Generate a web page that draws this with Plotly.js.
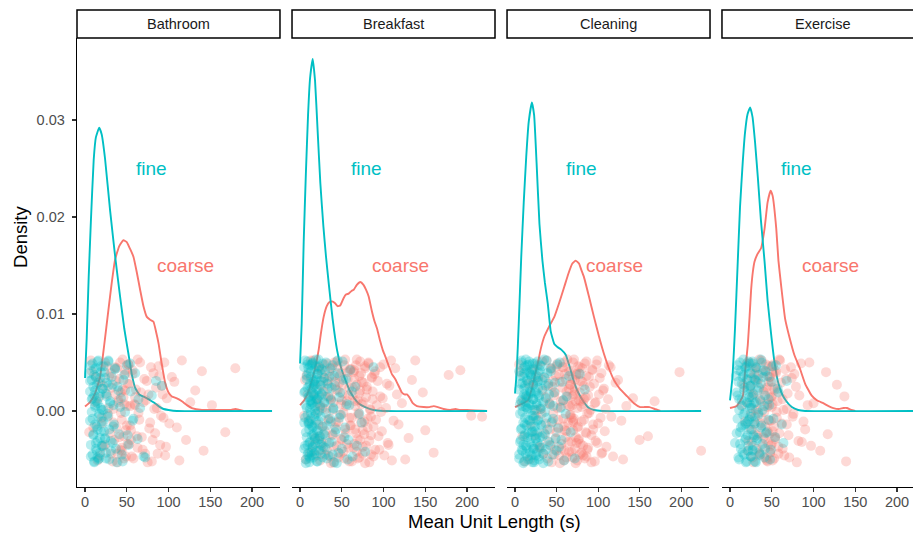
<!DOCTYPE html>
<html><head><meta charset="utf-8">
<script src="https://cdn.plot.ly/plotly-3.0.1.min.js"></script>
<style>html,body{margin:0;padding:0;background:#fff;} #chart{width:913px;height:535px;}</style>
</head><body><div id="chart"></div>
<script>
// ---------- categories & ticks ----------
const activities = ['Bathroom', 'Breakfast', 'Cleaning', 'Exercise'];
const groups = ['fine', 'coarse'];
const xTickVals = [0, 50, 100, 150, 200];
const yTickVals = [0, 0.01, 0.02, 0.03];
const yTickText = ['0.00', '0.01', '0.02', '0.03'];

// ---------- density curves (Mean Unit Length (s) -> Density) ----------
const bathFineX = [0,2,4.4,7,10.4,13,17,20,24,30,36,42,47,52,56,60,65,72,78,82,88,94,100,110,224];
const bathFineY = [0.0034,0.0075,0.0138,0.0195,0.0259,0.0282,0.0292,0.0285,0.026,0.0207,0.016,0.0118,0.0085,0.0059,0.0038,0.0024,0.0017,0.0014,0.0011,0.0009,0.0005,0.0002,0.0001,0,0];
const bathCoarseX = [0,6,12,18,23,28,32,36,41,46,50,54,58,62,66,70,74,78,82,85,88,92,96,100,104,110,116,122,128,140,160,175,180,185,190];
const bathCoarseY = [0.00045,0.0009,0.0018,0.0035,0.0068,0.0104,0.0132,0.0156,0.017,0.0176,0.0174,0.0167,0.0159,0.0143,0.0125,0.0108,0.0097,0.0094,0.0092,0.0082,0.007,0.0048,0.0029,0.0019,0.0015,0.0013,0.001,0.0006,0.0003,0.0001,0.0001,0.0001,0.0002,0.0001,0];

const brkFineX = [0,2,4.4,7,9.6,12,15.2,18,21,24.3,28,31,34.3,39,44.3,49,54.3,60,65,70,78,88,100,224];
const brkFineY = [0.0049,0.009,0.0175,0.0245,0.0305,0.0343,0.0363,0.034,0.029,0.0235,0.019,0.016,0.0132,0.0095,0.0063,0.0045,0.0032,0.002,0.0013,0.0008,0.0004,0.0001,0,0];
const brkCoarseX = [0,5,10,15,19,22.3,25,28.3,32,35,38.3,42,45,48.3,52,55,58.3,62,64.3,68,72.2,76,79,82.2,86,89,92.2,96,99,102.2,106,110,114,118,122,125,128,131,135,140,148,155,160,165,172,180,186,192,200,224];
const brkCoarseY = [0.0006,0.0011,0.002,0.0034,0.0048,0.0063,0.008,0.0097,0.0108,0.0112,0.0113,0.0111,0.0108,0.0109,0.0116,0.012,0.0121,0.0124,0.0125,0.013,0.0133,0.013,0.0125,0.0118,0.0103,0.0093,0.0085,0.0072,0.0063,0.0056,0.0047,0.0038,0.0033,0.0026,0.0019,0.0017,0.0017,0.0014,0.0008,0.0005,0.0004,0.0004,0.0005,0.0004,0.0002,0.0001,0.0002,0.0001,0.0001,0];

const clnFineX = [0,2,4.5,7.5,10.5,13.5,16.5,20.3,23,26,29.4,33,36,39.4,43,47.3,51,56,61,66,71,76,83,89,95,105,224];
const clnFineY = [0.0018,0.004,0.009,0.0159,0.0215,0.0262,0.0298,0.0318,0.0305,0.0255,0.0193,0.0155,0.0132,0.0111,0.0082,0.0069,0.0066,0.0063,0.0058,0.0045,0.003,0.0019,0.0009,0.0003,0.0001,0,0];
const clnCoarseX = [0,5,10,15.5,20,24,27.4,31,35.4,41,47.3,53,59.3,64,69,73.1,77,80,83,89,95,101,107,113,119,126,135,143,150.6,156,162,168,175];
const clnCoarseY = [0.0004,0.0006,0.0008,0.0011,0.0022,0.0037,0.0049,0.0064,0.0077,0.0087,0.0097,0.0111,0.0128,0.0141,0.0152,0.0155,0.0152,0.0145,0.0138,0.0118,0.0097,0.0077,0.0059,0.0044,0.0032,0.0023,0.0015,0.0008,0.0004,0.0004,0.0004,0.0002,0];

const exeFineX = [0,3,6,9.3,12,15.3,18,21,24.1,27,30,33.4,37,41.4,45,49.4,53,57.5,62,67.5,74,81.6,90,224];
const exeFineY = [0.0011,0.0035,0.0085,0.0154,0.021,0.0257,0.0287,0.0306,0.0313,0.0303,0.0277,0.024,0.0197,0.0154,0.0114,0.0078,0.0052,0.003,0.0018,0.001,0.0004,0.0001,0,0];
const exeCoarseX = [0,8,15.3,18,21.3,23.5,25.3,27.3,29.4,33,37.3,41.4,45,48.6,51,55.4,58,61.4,66,71.5,77,83.6,90,97.6,104,111.7,118,123.7,130,136,140,145,150];
const exeCoarseY = [0.0003,0.0005,0.0015,0.004,0.0068,0.0098,0.0125,0.0143,0.0154,0.0162,0.0168,0.0188,0.0215,0.0227,0.0222,0.0188,0.0155,0.0128,0.0095,0.0075,0.0058,0.0044,0.0028,0.0016,0.0011,0.0008,0.0005,0.0003,0.0002,0.0003,0.0003,0.0001,0];

// ---------- jittered raw observations (x = Mean Unit Length, y = vertical jitter) ----------
const bathFineJit = [0.0031,-0.0047,0.0012,-0.0008,0.0049,-0.0025,0.0037,-0.0052,0.0004,0.0021,-0.0039,0.0044,-0.0016,0.0027,-0.0031,0.0008,-0.0050,0.0052,-0.0003,0.0015,-0.0043,0.0034,-0.0021,0.0046,-0.0011,0.0023,-0.0036,0.0001,0.0040,-0.0028,0.0018,-0.0049,0.0029,-0.0006,0.0051,-0.0019,0.0010,-0.0041,0.0035,-0.0033,0.0006,-0.0014,0.0043,-0.0053,0.0025,-0.0024,0.0013,-0.0045,0.0032,-0.0001,0.0047,-0.0035,0.0020,-0.0010,0.0039,-0.0029,0.0003,-0.0048,0.0016,0.0026];
const bathCoarseJit = [-0.0022,0.0041,0.0009,-0.0051,0.0030,-0.0013,-0.0037,0.0050,0.0017,-0.0005,0.0036,-0.0044,0.0024,0.0002,-0.0030,0.0045,-0.0018,-0.0053,0.0011,0.0033,-0.0040,0.0019,-0.0009,0.0053,-0.0026,0.0007,0.0038,-0.0047,-0.0015,0.0028,0.0048,-0.0034,0.0005,-0.0020,0.0042,-0.0049,0.0014,0.0022,-0.0038,-0.0002,0.0050,-0.0027,0.0009,-0.0044,0.0031,0.0017,-0.0012,-0.0052,0.0039,-0.0023,0.0003,0.0046,-0.0035,0.0026,-0.0007,-0.0046,0.0013,0.0035,-0.0017,0.0052,-0.0030,0.0021,-0.0041,0.0006,0.0044];
const brkFineJit = [0.0045,-0.0012,-0.0036,0.0020,0.0006,-0.0050,0.0033,-0.0027,0.0051,-0.0004,0.0014,-0.0043,0.0039,-0.0019,0.0026,-0.0053,0.0002,0.0047,-0.0032,0.0011,-0.0008,0.0035,-0.0046,0.0023,-0.0015,0.0050,-0.0038,0.0008,0.0030,-0.0024,-0.0048,0.0017,0.0043,-0.0006,-0.0034,0.0027,0.0000,-0.0041,0.0053,-0.0020,0.0012,0.0038,-0.0052,0.0022,-0.0010,0.0046,-0.0029,0.0004,-0.0044,0.0031,0.0018,-0.0016,0.0049,-0.0037,0.0009,-0.0025,0.0041,-0.0002,-0.0049,0.0028,0.0015,-0.0033,0.0044,-0.0011,0.0024,-0.0045,0.0003,0.0036,-0.0022,-0.0054,0.0052,-0.0007,0.0019,-0.0039,0.0032,-0.0017,0.0007,-0.0030,0.0042,-0.0047,0.0025,-0.0003,-0.0042,0.0048,0.0010,-0.0026,0.0034,-0.0013,0.0016,-0.0035];
const brkCoarseJit = [-0.0005,0.0037,-0.0043,0.0019,0.0052,-0.0028,0.0008,-0.0014,0.0044,-0.0051,0.0026,-0.0033,0.0003,0.0048,-0.0021,0.0015,-0.0040,0.0031,-0.0009,0.0041,-0.0047,0.0012,0.0035,-0.0025,0.0001,-0.0053,0.0050,-0.0017,0.0022,-0.0036,0.0046,-0.0011,0.0029,-0.0044,0.0007,0.0039,-0.0030,0.0018,-0.0002,-0.0049,0.0053,-0.0023,0.0010,0.0033,-0.0038,0.0024,-0.0007,0.0043,-0.0015,-0.0052,0.0016,0.0040,-0.0034,0.0005,-0.0019,0.0047,-0.0042,0.0027,0.0011,-0.0029,-0.0004,0.0036,-0.0048,0.0021,0.0051,-0.0012,0.0030,-0.0037,0.0009,-0.0024,0.0044,-0.0054,0.0014,0.0025,-0.0008,0.0049,-0.0031,0.0002,-0.0045,0.0034,0.0020,-0.0016,0.0038,-0.0040,0.0006,-0.0026,0.0045,-0.0001,0.0013,-0.0046,0.0028,-0.0035,0.0052,-0.0010,0.0017,-0.0050,0.0032,-0.0020,0.0042,-0.0006];
const clnFineJit = [0.0022,-0.0049,0.0036,-0.0003,0.0011,-0.0030,0.0050,-0.0018,-0.0041,0.0029,0.0005,-0.0012,0.0044,-0.0035,0.0017,-0.0052,0.0039,-0.0007,0.0026,-0.0024,0.0053,-0.0044,0.0009,0.0032,-0.0015,-0.0038,0.0002,0.0047,-0.0027,0.0014,-0.0050,0.0024,0.0040,-0.0010,-0.0033,0.0018,0.0006,-0.0046,0.0034,-0.0021,0.0049,-0.0005,-0.0039,0.0012,0.0027,-0.0053,0.0043,-0.0016,0.0001,0.0037,-0.0029,0.0020,-0.0043,0.0008,0.0051,-0.0023,-0.0009,0.0031,-0.0047,0.0016,0.0042,-0.0036,0.0004,-0.0014,0.0046,-0.0026,0.0023,-0.0054,0.0035,-0.0001,0.0013,-0.0040,0.0052,-0.0019,0.0028,-0.0032,0.0007,0.0041,-0.0045,-0.0008,0.0019,-0.0028,0.0048,-0.0037,0.0003,0.0030,-0.0051,0.0015,-0.0022,0.0038];
const clnCoarseJit = [0.0040,-0.0026,0.0013,-0.0050,0.0029,-0.0006,0.0047,-0.0037,0.0002,0.0021,-0.0044,0.0034,-0.0013,0.0052,-0.0031,0.0008,-0.0019,0.0043,-0.0053,0.0025,-0.0002,0.0016,-0.0040,0.0036,-0.0022,0.0049,-0.0009,-0.0046,0.0030,0.0004,-0.0034,0.0045,0.0011,-0.0016,-0.0051,0.0038,-0.0027,0.0020,0.0053,-0.0012,0.0006,-0.0042,0.0027,-0.0004,0.0041,-0.0032,0.0015,-0.0048,0.0033,-0.0020,0.0050,-0.0008,0.0024,-0.0039,0.0010,-0.0054,0.0037,-0.0017,0.0003,0.0046,-0.0029,0.0019,-0.0045,0.0031,-0.0011,0.0044,-0.0036,0.0007,0.0026,-0.0049,0.0014,-0.0023,0.0051,-0.0003,-0.0038,0.0035,0.0001,-0.0025,0.0042,-0.0014,0.0028,-0.0052,0.0009,0.0048,-0.0033,0.0017,-0.0007,0.0039,-0.0043,0.0023,-0.0021,0.0012,0.0045,-0.0047,0.0032,-0.0010,0.0005,-0.0030,0.0010,-0.0041];
const exeFineJit = [-0.0033,0.0019,0.0047,-0.0008,0.0030,-0.0050,0.0012,-0.0022,0.0041,-0.0039,0.0005,0.0035,-0.0015,0.0053,-0.0045,0.0024,-0.0002,-0.0028,0.0044,0.0009,-0.0052,0.0032,-0.0011,0.0017,-0.0036,0.0049,-0.0019,0.0003,0.0039,-0.0047,0.0026,-0.0006,0.0014,-0.0041,0.0051,-0.0025,0.0008,0.0033,-0.0013,-0.0053,0.0045,-0.0030,0.0021,-0.0004,0.0037,-0.0043,0.0011,0.0028,-0.0017,0.0050,-0.0034,0.0001,0.0042,-0.0048,0.0016,-0.0023,0.0036,-0.0009,0.0006,-0.0040,0.0046,-0.0027,0.0023,-0.0014,0.0031];
const exeCoarseJit = [0.0027,-0.0041,0.0008,0.0050,-0.0019,-0.0032,0.0016,-0.0053,0.0038,-0.0006,0.0045,-0.0025,0.0002,0.0033,-0.0046,0.0012,-0.0013,0.0052,-0.0037,0.0020,-0.0001,0.0041,-0.0029,-0.0049,0.0024,0.0007,-0.0021,0.0046,-0.0010,0.0035,-0.0043,0.0014,0.0030,-0.0034,0.0004,-0.0051,0.0048,-0.0016,0.0022,-0.0027,0.0039,-0.0007,0.0010,-0.0044,0.0053,-0.0023,0.0029,-0.0039,0.0001,0.0043,-0.0014,0.0018,-0.0048,0.0034,-0.0003,0.0025,-0.0031,0.0049,-0.0011,0.0006,-0.0036,0.0040,-0.0024,0.0015,-0.0052];

// x values, two batches per series (each batch paired in order with the series' jitter list)
const bathFinePtsA = [6,7,8,9,9,10,11,11,12,12,13,13,14,14,15,15,16,16,17,17,18,18,19,19,20,21,21,22,23,24,25,25,26,27,28,29,30,31,32,33,34,35,36,38,39,41,43,44,46,48,50,52,55,57,60,63,66,72,80,92];
const bathFinePtsB = [85,70,64,58,54,51,47,45,42,40,37,36,34,33,31,30,29,28,27,26,25,24,23,22,22,21,20,20,19,18,18,17,16,16,15,15,14,14,13,13,12,12,11,11,10,10,9,9,8,8,7,7,6,6,5,24,19,15,11,28];
const bathCoarsePtsA = [5,8,12,15,18,20,22,24,26,28,29,31,32,34,35,36,38,39,40,41,42,43,44,45,46,47,48,49,50,51,52,53,54,55,57,58,60,61,63,64,66,68,70,72,74,76,78,80,82,84,86,88,90,92,94,96,98,104,110,116,121,132,142,152,180];
const bathCoarsePtsB = [168,140,126,113,107,101,97,95,93,91,89,87,85,83,81,79,77,75,73,71,69,67,65,63,62,59,57,56,54,53,52,51,50,49,48,47,46,45,44,43,42,41,40,39,37,36,34,33,31,30,28,26,24,22,20,18,16,13,10,7,55,48,44,60,38];

const brkFinePtsA = [5,5,6,6,7,7,8,8,9,9,10,10,10,11,11,11,12,12,12,13,13,13,14,14,14,15,15,15,16,16,16,17,17,17,18,18,18,19,19,20,20,21,21,22,22,23,23,24,25,25,26,27,27,28,29,30,30,31,32,33,34,35,36,37,38,39,40,41,42,44,45,47,48,50,52,54,56,58,60,63,66,71,78,14,19,24,29,11,16,9];
const brkFinePtsB = [88,74,68,62,59,57,55,53,51,49,47,46,45,43,42,41,40,39,38,37,36,35,34,33,32,31,30,29,28,28,27,26,26,25,24,24,23,23,22,22,21,21,20,20,19,19,18,18,17,17,16,16,15,15,14,14,13,13,12,12,11,11,10,10,9,9,8,8,7,7,6,6,5,5,18,15,13,21,24,11,16,19,14,9,12,17,20,10,23,26];
const brkCoarsePtsA = [5,8,12,14,16,18,21,22,23,24,25,26,27,29,30,31,32,33,34,35,36,37,38,39,39,40,41,42,43,44,45,46,47,48,49,49,50,51,52,53,54,55,56,57,58,59,59,60,61,62,63,64,65,66,66,67,68,68,69,69,70,71,71,72,72,73,74,75,76,77,78,78,79,80,81,82,83,84,85,86,87,88,89,90,92,94,96,97,99,101,104,106,109,112,116,126,134,150,192,218];
const brkCoarsePtsB = [205,178,160,147,138,130,122,118,114,110,107,105,103,100,98,96,95,93,91,90,88,87,86,85,84,83,82,81,80,79,78,77,76,75,74,73,72,71,70,69,68,67,66,65,64,63,62,61,60,59,58,57,56,55,54,53,52,51,50,49,48,47,46,45,44,43,42,41,40,39,38,37,36,35,34,33,32,31,30,29,28,27,26,25,24,23,22,21,20,19,17,15,13,11,9,7,6,75,65,85];

const clnFinePtsA = [5,5,6,6,7,7,8,8,9,9,9,10,10,10,11,11,11,12,12,12,13,13,13,14,14,14,15,15,15,16,16,17,17,18,18,19,20,20,20,21,21,21,22,22,22,23,23,24,24,25,25,25,26,26,27,27,28,28,29,29,30,30,31,31,32,33,33,34,35,36,37,37,38,39,40,41,42,43,45,46,47,49,51,53,55,57,59,62,67,78];
const clnFinePtsB = [84,72,65,61,58,56,54,52,50,48,46,44,43,42,41,40,39,38,37,36,35,34,34,33,32,32,31,30,30,29,29,28,28,27,27,26,26,25,25,24,24,23,23,22,22,21,21,20,20,19,19,18,18,17,17,16,16,15,15,14,14,13,13,12,12,11,11,10,10,9,9,8,8,7,7,6,6,5,5,22,19,25,17,21,15,27,23,13,20,18];
const clnCoarsePtsA = [6,9,14,18,22,25,27,29,31,33,34,36,37,38,39,41,42,43,44,45,46,47,48,49,50,51,52,53,54,55,56,57,58,59,59,60,61,62,63,64,64,65,66,67,67,68,69,69,69,70,70,71,72,72,73,73,74,75,75,76,77,78,78,79,80,81,82,82,83,84,85,86,86,87,88,89,91,92,93,94,95,96,97,98,99,101,103,104,105,107,108,112,115,118,124,128,134,150,168,224];
const clnCoarsePtsB = [198,160,142,130,121,116,113,110,109,106,104,102,100,99,97,96,94,93,92,90,89,88,87,86,85,84,83,82,81,80,79,78,77,76,75,74,73,72,71,70,69,68,67,66,65,64,63,62,61,60,59,58,57,56,55,54,53,52,51,50,49,48,47,46,45,44,43,42,40,39,37,35,33,32,30,28,26,24,21,19,16,12,8,5,74,71,68,77,80,65,62,83,58,86,72,70,66,76,79,60];

const exeFinePtsA = [6,8,9,9,10,11,11,12,13,13,14,15,15,16,17,17,18,19,19,20,20,21,21,22,22,23,23,24,24,25,25,26,26,27,27,28,29,29,30,31,31,32,33,34,34,35,36,37,37,38,39,39,40,41,42,43,45,46,47,49,51,54,57,62,68];
const exeFinePtsB = [64,58,55,52,50,48,46,44,43,42,41,40,38,37,36,35,34,33,32,31,30,30,29,28,28,27,26,26,25,25,24,24,23,22,22,21,21,20,19,19,18,18,17,16,16,15,14,14,13,12,12,11,10,10,9,8,7,23,25,27,20,29,24,18,31];
const exeCoarsePtsA = [16,21,23,24,25,26,27,28,29,30,31,32,33,34,35,36,37,38,39,40,41,42,42,43,44,45,45,46,47,47,48,49,49,50,50,51,52,53,53,54,55,56,57,58,59,59,61,63,64,66,68,69,71,74,76,79,82,85,88,93,97,115,117,137,139];
const exeCoarsePtsB = [128,108,100,95,90,86,83,80,77,75,73,70,68,67,65,63,62,60,58,57,56,55,54,53,52,51,51,50,49,48,48,47,46,46,45,44,43,42,41,40,39,38,37,36,35,34,33,32,31,30,29,28,27,26,25,24,22,20,18,14,49,52,47,50,45];

// ---------- assemble ----------
const TEAL = '#00BFC4', SALMON = '#F8766D';
const FONT = 'Liberation Sans, Arial, Helvetica, sans-serif';
const facetData = [
  {curves: {fine: [bathFineX, bathFineY], coarse: [bathCoarseX, bathCoarseY]},
   pts: {fine: [[bathFinePtsA, bathFineJit], [bathFinePtsB, bathFineJit]], coarse: [[bathCoarsePtsA, bathCoarseJit], [bathCoarsePtsB, bathCoarseJit]]}},
  {curves: {fine: [brkFineX, brkFineY], coarse: [brkCoarseX, brkCoarseY]},
   pts: {fine: [[brkFinePtsA, brkFineJit], [brkFinePtsB, brkFineJit]], coarse: [[brkCoarsePtsA, brkCoarseJit], [brkCoarsePtsB, brkCoarseJit]]}},
  {curves: {fine: [clnFineX, clnFineY], coarse: [clnCoarseX, clnCoarseY]},
   pts: {fine: [[clnFinePtsA, clnFineJit], [clnFinePtsB, clnFineJit]], coarse: [[clnCoarsePtsA, clnCoarseJit], [clnCoarsePtsB, clnCoarseJit]]}},
  {curves: {fine: [exeFineX, exeFineY], coarse: [exeCoarseX, exeCoarseY]},
   pts: {fine: [[exeFinePtsA, exeFineJit], [exeFinePtsB, exeFineJit]], coarse: [[exeCoarsePtsA, exeCoarseJit], [exeCoarsePtsB, exeCoarseJit]]}}
];
const colorOf = {fine: TEAL, coarse: SALMON};

const domains = [[0, 0.2428], [0.2572, 0.5], [0.5144, 0.756], [0.7715, 1]];
const xRanges = [[-9.6, 233.5], [-9.6, 233.5], [-9.6, 233.5], [-9.6, 219.1]];
const yRange = [-0.00784, 0.03845];

const traces = [];
facetData.forEach((f, i) => {
  const xa = 'x' + (i ? i + 1 : ''), ya = 'y' + (i ? i + 1 : '');
  ['coarse', 'fine'].forEach(g => {
    traces.push({type: 'scatter', mode: 'lines', x: f.curves[g][0], y: f.curves[g][1], xaxis: xa, yaxis: ya,
      line: {color: colorOf[g], width: 1.9, shape: 'spline', smoothing: 0.4}, hoverinfo: 'skip', showlegend: false});
  });
  ['coarse', 'fine'].forEach(g => {
    let xs = [], ys = [];
    f.pts[g].forEach(([px, py]) => {
      const n = Math.min(px.length, py.length);
      xs = xs.concat(px.slice(0, n)); ys = ys.concat(py.slice(0, n));
    });
    traces.push({type: 'scatter', mode: 'markers', x: xs, y: ys, xaxis: xa, yaxis: ya,
      marker: {color: colorOf[g], size: 10, opacity: 0.28, line: {width: 0}}, hoverinfo: 'skip', showlegend: false});
  });
});

const layout = {
  width: 913, height: 535,
  margin: {l: 77, r: 0, t: 38, b: 48},
  paper_bgcolor: '#fff', plot_bgcolor: '#fff',
  font: {family: FONT, color: '#000'},
  showlegend: false,
  shapes: [], annotations: []
};
activities.forEach((name, i) => {
  const sfx = i ? String(i + 1) : '';
  layout['xaxis' + sfx] = {
    domain: domains[i], range: xRanges[i], anchor: 'y' + sfx,
    showgrid: false, zeroline: false, showline: true, linecolor: '#000', linewidth: 1.3,
    ticks: 'outside', ticklen: 4, tickwidth: 1.1, tickcolor: '#333',
    tickvals: xTickVals, tickfont: {family: FONT, size: 14.5, color: '#4D4D4D'},
    ticklabelstandoff: -3, fixedrange: true
  };
  layout['yaxis' + sfx] = i === 0 ? {
    domain: [0, 1], range: yRange, anchor: 'x',
    showgrid: false, zeroline: false, showline: true, linecolor: '#000', linewidth: 1.3,
    ticks: 'outside', ticklen: 4, tickwidth: 1.1, tickcolor: '#333',
    tickvals: yTickVals, ticktext: yTickText, tickfont: {family: FONT, size: 14.5, color: '#4D4D4D'},
    ticklabelstandoff: 4, fixedrange: true
  } : {domain: [0, 1], range: yRange, anchor: 'x' + sfx, visible: false, fixedrange: true};

  const d = domains[i];
  const w = 0.2428; // full strip width (Exercise strip runs past the right edge)
  layout.shapes.push({type: 'rect', xref: 'paper', yref: 'paper', x0: d[0], x1: d[0] + w, y0: 1.0, y1: 1.0624,
    line: {color: '#000', width: 1.5}, fillcolor: '#fff'});
  layout.annotations.push({xref: 'paper', yref: 'paper', x: d[0] + w / 2, y: 1.0312, text: name, showarrow: false,
    xanchor: 'center', yanchor: 'middle', font: {family: FONT, size: 14.5, color: '#1A1A1A'}});
  layout.annotations.push({xref: 'x' + sfx, yref: 'y' + sfx, x: 80, y: 0.025, text: 'fine', showarrow: false,
    xanchor: 'center', yanchor: 'middle', font: {family: FONT, size: 19, color: TEAL}});
  layout.annotations.push({xref: 'x' + sfx, yref: 'y' + sfx, x: 120, y: 0.015, text: 'coarse', showarrow: false,
    xanchor: 'center', yanchor: 'middle', font: {family: FONT, size: 19, color: SALMON}});
});
layout.annotations.push({xref: 'paper', yref: 'paper', x: 0.4994, y: -0.0768, text: 'Mean Unit Length (s)', showarrow: false,
  xanchor: 'center', yanchor: 'middle', font: {family: FONT, size: 18.5, color: '#000'}});
layout.annotations.push({xref: 'paper', yref: 'paper', x: -0.067, y: 0.5568, text: 'Density', textangle: -90, showarrow: false,
  xanchor: 'center', yanchor: 'middle', font: {family: FONT, size: 18.5, color: '#000'}});

Plotly.newPlot('chart', traces, layout, {displayModeBar: false, staticPlot: true});
</script>
</body></html>
